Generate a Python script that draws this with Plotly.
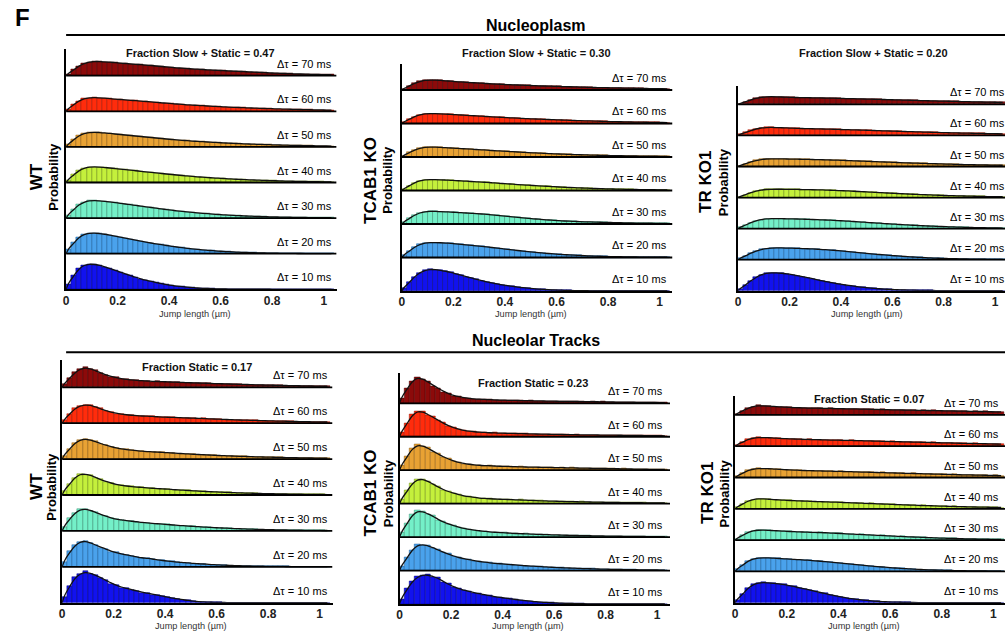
import numpy as np
import plotly.graph_objects as go

W, H = 1005, 633

# ---------------- data ----------------
BIN_CENTERS = [0.01, 0.03, 0.05, 0.07, 0.09, 0.11, 0.13, 0.15, 0.17, 0.19,
               0.21, 0.23, 0.25, 0.27, 0.29, 0.31, 0.33, 0.35, 0.37, 0.39,
               0.41, 0.43, 0.45, 0.47, 0.49, 0.51, 0.53, 0.55, 0.57, 0.59,
               0.61, 0.63, 0.65, 0.67, 0.69, 0.71, 0.73, 0.75, 0.77, 0.79,
               0.81, 0.83, 0.85, 0.87, 0.89, 0.91, 0.93, 0.95, 0.97, 0.99,
               1.01, 1.03]
DT_LABELS = ["Δτ = 10 ms", "Δτ = 20 ms", "Δτ = 30 ms", "Δτ = 40 ms",
             "Δτ = 50 ms", "Δτ = 60 ms", "Δτ = 70 ms"]
TICK_VALS = [0, 0.2, 0.4, 0.6, 0.8, 1]
TICK_TEXT = ["0", "0.2", "0.4", "0.6", "0.8", "1"]
ROW_COLORS = ["#1212EE", "#4AA2EC", "#74F0C8", "#C4F03C", "#E8A234", "#FF2C0C", "#8C0A0A"]
ROW_EDGES = ["#05057A", "#1D5C96", "#3A8C70", "#6C8A14", "#8A5A12", "#9A1404", "#460000"]
GROUP_LABELS = ["WT", "TCAB1 KO", "TR KO1", "WT", "TCAB1 KO", "TR KO1"]
FRACTION_TEXT = ["Fraction Slow + Static = 0.47", "Fraction Slow + Static = 0.30",
                 "Fraction Slow + Static = 0.20", "Fraction Static = 0.17",
                 "Fraction Static = 0.23", "Fraction Static = 0.07"]
SECTION_TITLES = ["Nucleoplasm", "Nucleolar Tracks"]

# probability per bin (arbitrary units) -- Nucleoplasm, WT
np_wt_10 = [5, 14, 21, 24.5, 25.3, 25, 24, 22.5, 20.8, 19,
            17.2, 15.4, 13.7, 12, 10.5, 9.1, 7.8, 6.6, 5.6, 4.7,
            3.9, 3.2, 2.6, 2.1, 1.7, 1.3, 1.0, 0.8, 0.6, 0.45,
            0.35, 0.25, 0.2, 0.15, 0.1, 0.08, 0.06, 0.05, 0.04, 0.03,
            0.02, 0.02, 0.02, 0.02, 0.02, 0.02, 0.02, 0.02, 0.02, 0.02,
            0.02, 0.02]
np_wt_20 = [4, 11, 16.5, 19.5, 20.6, 20.7, 20.2, 19.5, 18.6, 17.6,
            16.6, 15.6, 14.6, 13.6, 12.6, 11.6, 10.7, 9.8, 9.0, 8.2,
            7.4, 6.7, 6.0, 5.4, 4.8, 4.3, 3.8, 3.4, 3.0, 2.6,
            2.3, 2.0, 1.75, 1.5, 1.3, 1.1, 0.95, 0.8, 0.7, 0.6,
            0.5, 0.42, 0.35, 0.3, 0.25, 0.2, 0.17, 0.14, 0.12, 0.1,
            0.08, 0.07]
np_wt_30 = [3, 9, 13.5, 16.2, 17.4, 17.6, 17.3, 16.8, 16.2, 15.5,
            14.8, 14.1, 13.4, 12.7, 12.0, 11.3, 10.6, 9.9, 9.2, 8.5,
            7.9, 7.3, 6.7, 6.2, 5.7, 5.2, 4.8, 4.4, 4.0, 3.6,
            3.3, 3.0, 2.7, 2.45, 2.2, 2.0, 1.8, 1.6, 1.45, 1.3,
            1.15, 1.05, 0.95, 0.85, 0.75, 0.68, 0.6, 0.54, 0.48, 0.43,
            0.38, 0.34]
np_wt_40 = [2.5, 8, 12, 14.5, 15.5, 15.7, 15.4, 15.0, 14.5, 14.0,
            13.4, 12.9, 12.3, 11.8, 11.2, 10.7, 10.1, 9.6, 9.0, 8.5,
            8.0, 7.5, 7.0, 6.6, 6.1, 5.7, 5.3, 4.9, 4.6, 4.3,
            4.0, 3.7, 3.4, 3.1, 2.9, 2.7, 2.5, 2.3, 2.1, 1.9,
            1.75, 1.6, 1.45, 1.3, 1.2, 1.1, 1.0, 0.9, 0.8, 0.72,
            0.65, 0.58]
np_wt_50 = [2.3, 7.5, 11.3, 13.6, 14.5, 14.7, 14.4, 14.0, 13.5, 12.9,
            12.4, 11.9, 11.4, 10.9, 10.4, 9.9, 9.4, 8.9, 8.4, 7.9,
            7.4, 7.0, 6.6, 6.2, 5.8, 5.5, 5.2, 4.9, 4.6, 4.3,
            4.0, 3.8, 3.5, 3.3, 3.1, 2.9, 2.7, 2.5, 2.35, 2.2,
            2.05, 1.9, 1.75, 1.6, 1.5, 1.4, 1.3, 1.2, 1.1, 1.0,
            0.92, 0.85]
np_wt_60 = [2.1, 7, 10.5, 12.7, 13.5, 13.7, 13.5, 13.1, 12.7, 12.2,
            11.8, 11.4, 11.0, 10.6, 10.2, 9.8, 9.4, 9.0, 8.5, 8.1,
            7.7, 7.3, 6.9, 6.5, 6.2, 5.9, 5.6, 5.3, 5.0, 4.7,
            4.5, 4.2, 4.0, 3.8, 3.6, 3.4, 3.2, 3.0, 2.8, 2.65,
            2.5, 2.35, 2.2, 2.05, 1.9, 1.8, 1.65, 1.55, 1.45, 1.35,
            1.25, 1.15]
np_wt_70 = [1.8, 6.2, 9.8, 12.3, 13.7, 14.3, 14.2, 13.9, 13.5, 13.0,
            12.6, 12.2, 11.8, 11.4, 11.0, 10.6, 10.2, 9.7, 9.2, 8.7,
            8.3, 7.9, 7.5, 7.1, 6.8, 6.5, 6.2, 5.9, 5.6, 5.3,
            5.1, 4.8, 4.6, 4.3, 4.1, 3.8, 3.6, 3.3, 3.1, 2.8,
            2.6, 2.4, 2.2, 2.0, 1.85, 1.7, 1.55, 1.4, 1.3, 1.15,
            1.05, 0.95]

# Nucleoplasm, TCAB1 KO
np_tcab_10 = [3, 9, 14.5, 18.5, 20.8, 21.7, 21.5, 20.8, 19.8, 18.6,
              17.2, 15.8, 14.4, 13.0, 11.7, 10.4, 9.2, 8.1, 7.1, 6.2,
              5.4, 4.6, 3.9, 3.3, 2.8, 2.3, 1.9, 1.6, 1.3, 1.05,
              0.85, 0.7, 0.55, 0.45, 0.35, 0.28, 0.22, 0.17, 0.13, 0.1,
              0.08, 0.06, 0.05, 0.04, 0.03, 0.03, 0.02, 0.02, 0.02, 0.02,
              0.02, 0.02]
np_tcab_20 = [2.2, 6.8, 10.5, 13.2, 14.6, 15.0, 15.0, 14.8, 14.5, 14.1,
              13.7, 13.2, 12.7, 12.2, 11.7, 11.2, 10.6, 10.0, 9.4, 8.8,
              8.2, 7.6, 7.0, 6.4, 5.8, 5.3, 4.8, 4.4, 4.0, 3.6,
              3.2, 2.9, 2.6, 2.3, 2.05, 1.8, 1.6, 1.4, 1.25, 1.1,
              0.95, 0.85, 0.75, 0.65, 0.57, 0.5, 0.44, 0.38, 0.33, 0.29,
              0.25, 0.22]
np_tcab_30 = [1.8, 5.8, 9.0, 11.3, 12.4, 12.7, 12.6, 12.4, 12.2, 11.9,
              11.6, 11.3, 11.0, 10.7, 10.4, 10.0, 9.6, 9.1, 8.6, 8.1,
              7.6, 7.1, 6.6, 6.1, 5.6, 5.2, 4.8, 4.4, 4.0, 3.6,
              3.3, 3.0, 2.8, 2.6, 2.4, 2.2, 2.05, 1.9, 1.75, 1.6,
              1.5, 1.38, 1.26, 1.15, 1.05, 0.96, 0.88, 0.8, 0.74, 0.68,
              0.62, 0.57]
np_tcab_40 = [1.6, 5.0, 7.8, 9.8, 10.8, 11.0, 10.9, 10.7, 10.5, 10.2,
              9.9, 9.6, 9.3, 9.0, 8.7, 8.4, 8.1, 7.7, 7.4, 7.0,
              6.7, 6.3, 6.0, 5.6, 5.3, 5.0, 4.7, 4.4, 4.1, 3.8,
              3.5, 3.3, 3.0, 2.8, 2.6, 2.4, 2.2, 2.0, 1.85, 1.7,
              1.55, 1.42, 1.3, 1.2, 1.1, 1.0, 0.92, 0.85, 0.78, 0.72,
              0.66, 0.6]
np_tcab_50 = [1.5, 4.6, 7.1, 8.9, 9.8, 10.0, 9.9, 9.6, 9.3, 9.0,
              8.7, 8.4, 8.1, 7.8, 7.5, 7.2, 6.9, 6.5, 6.2, 5.9,
              5.6, 5.3, 5.0, 4.7, 4.4, 4.2, 3.9, 3.7, 3.4, 3.2,
              3.0, 2.8, 2.6, 2.4, 2.25, 2.1, 1.95, 1.8, 1.68, 1.56,
              1.45, 1.35, 1.25, 1.16, 1.08, 1.0, 0.93, 0.86, 0.8, 0.74,
              0.69, 0.64]
np_tcab_60 = [1.4, 4.4, 7.0, 8.8, 9.8, 10.0, 9.9, 9.7, 9.4, 9.1,
              8.8, 8.5, 8.2, 7.9, 7.6, 7.3, 7.0, 6.7, 6.4, 6.1,
              5.8, 5.5, 5.3, 5.0, 4.8, 4.6, 4.4, 4.2, 4.0, 3.8,
              3.6, 3.4, 3.2, 3.0, 2.85, 2.7, 2.55, 2.4, 2.25, 2.1,
              1.97, 1.85, 1.73, 1.62, 1.52, 1.42, 1.33, 1.24, 1.16, 1.08,
              1.0, 0.94]
np_tcab_70 = [1.3, 4.2, 6.8, 8.7, 9.7, 10.0, 9.9, 9.6, 9.2, 8.8,
              8.4, 8.0, 7.7, 7.4, 7.1, 6.8, 6.5, 6.2, 5.9, 5.6,
              5.4, 5.2, 5.0, 4.8, 4.6, 4.4, 4.2, 4.0, 3.85, 3.7,
              3.55, 3.4, 3.25, 3.1, 2.95, 2.8, 2.65, 2.5, 2.4, 2.3,
              2.2, 2.1, 2.0, 1.9, 1.8, 1.7, 1.6, 1.5, 1.42, 1.34,
              1.26, 1.2]

# Nucleoplasm, TR KO1
np_tr_10 = [2, 6, 10, 13.5, 16, 17.6, 18.0, 17.9, 17.5, 16.9,
            16.1, 15.2, 14.2, 13.1, 12.0, 10.9, 9.8, 8.8, 7.8, 6.9,
            6.0, 5.2, 4.5, 3.9, 3.3, 2.8, 2.3, 1.9, 1.6, 1.3,
            1.05, 0.85, 0.68, 0.54, 0.43, 0.34, 0.27, 0.21, 0.16, 0.12,
            0.1, 0.08, 0.06, 0.05, 0.04, 0.03, 0.03, 0.02, 0.02, 0.02,
            0.02, 0.02]
np_tr_20 = [1.3, 4.0, 6.6, 8.7, 10.2, 11.1, 11.6, 11.7, 11.7, 11.6,
            11.5, 11.3, 11.1, 10.9, 10.7, 10.4, 10.1, 9.8, 9.4, 9.0,
            8.6, 8.1, 7.6, 7.1, 6.6, 6.1, 5.6, 5.1, 4.7, 4.3,
            3.9, 3.5, 3.1, 2.8, 2.5, 2.2, 1.95, 1.7, 1.5, 1.32,
            1.15, 1.0, 0.88, 0.77, 0.67, 0.58, 0.5, 0.43, 0.37, 0.32,
            0.28, 0.24]
np_tr_30 = [1.2, 3.6, 6.0, 7.9, 9.1, 9.7, 10.0, 10.0, 9.9, 9.8,
            9.7, 9.6, 9.4, 9.3, 9.1, 8.9, 8.7, 8.5, 8.3, 8.0,
            7.7, 7.4, 7.1, 6.7, 6.4, 6.0, 5.7, 5.4, 5.0, 4.7,
            4.4, 4.1, 3.8, 3.5, 3.2, 3.0, 2.7, 2.5, 2.3, 2.1,
            1.9, 1.7, 1.55, 1.4, 1.25, 1.1, 1.0, 0.9, 0.8, 0.7,
            0.62, 0.55]
np_tr_40 = [1.0, 3.0, 5.0, 6.6, 7.6, 8.1, 8.3, 8.3, 8.3, 8.2,
            8.2, 8.1, 8.0, 7.9, 7.8, 7.7, 7.6, 7.4, 7.2, 7.0,
            6.8, 6.6, 6.3, 6.0, 5.8, 5.5, 5.2, 5.0, 4.7, 4.4,
            4.2, 3.9, 3.7, 3.4, 3.2, 3.0, 2.8, 2.6, 2.4, 2.2,
            2.05, 1.9, 1.75, 1.6, 1.47, 1.35, 1.23, 1.12, 1.02, 0.93,
            0.85, 0.77]
np_tr_50 = [0.9, 2.8, 4.6, 6.1, 7.1, 7.6, 7.7, 7.7, 7.6, 7.5,
            7.4, 7.3, 7.2, 7.1, 7.0, 6.9, 6.7, 6.6, 6.4, 6.3,
            6.1, 5.9, 5.7, 5.5, 5.3, 5.1, 4.9, 4.7, 4.5, 4.3,
            4.1, 3.9, 3.7, 3.5, 3.35, 3.2, 3.05, 2.9, 2.75, 2.6,
            2.45, 2.3, 2.15, 2.0, 1.9, 1.8, 1.7, 1.6, 1.5, 1.4,
            1.3, 1.2]
np_tr_60 = [1.0, 3.0, 5.0, 6.6, 7.6, 8.0, 8.0, 7.9, 7.7, 7.5,
            7.3, 7.1, 6.9, 6.8, 6.7, 6.6, 6.4, 6.3, 6.2, 6.0,
            5.9, 5.7, 5.6, 5.4, 5.3, 5.1, 4.9, 4.8, 4.6, 4.4,
            4.3, 4.1, 3.95, 3.8, 3.65, 3.5, 3.35, 3.2, 3.05, 2.9,
            2.75, 2.6, 2.5, 2.4, 2.3, 2.2, 2.1, 2.0, 1.9, 1.8,
            1.7, 1.6]
np_tr_70 = [0.9, 2.8, 4.7, 6.2, 7.2, 7.7, 7.7, 7.6, 7.4, 7.2,
            7.0, 6.9, 6.8, 6.7, 6.6, 6.5, 6.4, 6.3, 6.2, 6.1,
            5.9, 5.8, 5.7, 5.5, 5.4, 5.3, 5.1, 5.0, 4.9, 4.7,
            4.6, 4.45, 4.3, 4.15, 4.0, 3.85, 3.7, 3.55, 3.45, 3.3,
            3.2, 3.1, 2.95, 2.85, 2.75, 2.6, 2.5, 2.4, 2.3, 2.2,
            2.1, 2.0]

# Nucleolar tracks, WT
no_wt_10 = [6, 17, 25.5, 28.5, 31.5, 29, 28, 24.5, 23, 19,
            18, 15, 14.8, 12.6, 12.2, 10.2, 10, 8.2, 7.8, 6.4,
            5.8, 4.5, 3.9, 2.9, 2.3, 1.5, 1.1, 0.8, 0.5, 0.35,
            0.25, 0.18, 0.12, 0.1, 0.08, 0.06, 0.05, 0.05, 0.04, 0.04,
            0.03, 0.03, 0.03, 0.03, 0.02, 0.02, 0.02, 0.02, 0.02, 0.02,
            0.02, 0.02]
no_wt_20 = [5, 15.5, 21.5, 25, 26.3, 23.5, 22.3, 19.2, 18.3, 15.1,
            14.6, 12.4, 12.2, 10.5, 10.2, 8.7, 8.6, 7.9, 6.8, 6.5,
            5.5, 5.5, 4.4, 4.3, 4.0, 3.2, 3.1, 2.9, 2.3, 2.2,
            1.7, 1.8, 1.3, 1.3, 1.0, 0.9, 0.85, 0.7, 0.55, 0.55,
            0.45, 0.4, 0.35, 0.32, 0.25, 0.22, 0.2, 0.18, 0.15, 0.13,
            0.12, 0.1]
no_wt_30 = [4, 12.5, 18, 21.5, 22, 20.3, 19, 16, 15.2, 12.7,
            11.6, 11.4, 10.0, 9.6, 9.4, 8.3, 8.3, 7.4, 7.3, 6.6,
            6.5, 5.9, 5.4, 5.4, 4.7, 4.5, 4.3, 3.8, 3.6, 3.4,
            2.9, 2.9, 2.5, 2.3, 2.2, 1.9, 1.8, 1.6, 1.4, 1.35,
            1.2, 1.1, 1.0, 0.9, 0.8, 0.72, 0.65, 0.58, 0.52, 0.47,
            0.42, 0.38]
no_wt_40 = [4, 11.5, 17.5, 21.5, 20.5, 20.3, 17.1, 15.8, 13.2, 12.2,
            10.4, 9.8, 8.8, 8.6, 7.8, 7.7, 7.0, 6.8, 6.5, 5.9,
            6.1, 5.3, 5.2, 4.7, 4.6, 4.2, 3.8, 3.7, 3.3, 3.2,
            2.9, 2.6, 2.6, 2.2, 2.2, 1.9, 1.8, 1.7, 1.5, 1.4,
            1.3, 1.2, 1.1, 0.98, 0.9, 0.82, 0.75, 0.68, 0.62, 0.56,
            0.51, 0.46]
no_wt_50 = [3.5, 10.5, 16.5, 19, 20.5, 18.8, 17.9, 15.1, 14.3, 12.0,
            11.5, 10.0, 9.8, 8.7, 8.6, 7.8, 7.5, 7.4, 6.8, 6.9,
            6.2, 6.3, 5.6, 5.6, 5.0, 5.0, 4.4, 4.6, 3.9, 4.0,
            3.5, 3.5, 3.1, 3.1, 2.7, 2.8, 2.4, 2.4, 2.1, 2.1,
            1.9, 1.8, 1.65, 1.6, 1.45, 1.35, 1.25, 1.16, 1.08, 1.0,
            0.93, 0.86]
no_wt_60 = [3, 9.5, 15, 17.3, 18.3, 18.5, 15.8, 14.8, 12.1, 11.3,
            9.7, 9.3, 8.2, 8.2, 7.3, 7.4, 6.8, 7.0, 6.3, 6.3,
            5.8, 6.0, 5.5, 5.6, 5.0, 5.2, 4.7, 4.8, 4.3, 4.3,
            4.0, 3.7, 3.7, 3.3, 3.3, 3.0, 2.9, 2.8, 2.6, 2.4,
            2.4, 2.1, 2.1, 1.9, 1.85, 1.7, 1.6, 1.5, 1.4, 1.32,
            1.24, 1.16]
no_wt_70 = [3, 9.5, 15, 18, 20.5, 18, 17, 14, 12.8, 10.4,
            10.0, 8.3, 8.0, 7.2, 7.1, 6.4, 6.5, 5.8, 6.0, 5.5,
            5.6, 5.0, 5.3, 4.7, 4.8, 4.3, 4.5, 4.0, 4.1, 3.6,
            3.8, 3.3, 3.5, 3.0, 3.1, 2.8, 2.8, 2.4, 2.5, 2.1,
            2.2, 1.9, 2.0, 1.7, 1.8, 1.5, 1.6, 1.4, 1.35, 1.2,
            1.15, 1.05]

# Nucleolar tracks, TCAB1 KO
no_tcab_10 = [5, 15.5, 22.5, 27.5, 28.5, 30, 26.5, 27, 21.5, 20.5,
              16.5, 15.8, 13.4, 12.9, 11.0, 10.6, 9.0, 8.5, 7.2, 6.8,
              5.7, 5.4, 4.3, 4.0, 3.2, 2.9, 2.2, 1.9, 1.5, 1.3,
              1.0, 0.85, 0.6, 0.5, 0.35, 0.28, 0.2, 0.15, 0.1, 0.08,
              0.06, 0.05, 0.05, 0.04, 0.04, 0.03, 0.03, 0.03, 0.02, 0.02,
              0.02, 0.02]
no_tcab_20 = [4, 13.5, 20.5, 26.5, 25.5, 25.5, 22.5, 21, 17.8, 16.8,
              14.0, 13.4, 11.4, 11.2, 9.5, 9.3, 8.1, 7.9, 7.0, 7.0,
              6.2, 6.2, 5.4, 5.4, 4.6, 4.7, 4.0, 4.1, 3.4, 3.5,
              2.8, 3.0, 2.5, 2.6, 2.1, 2.1, 1.8, 1.8, 1.5, 1.5,
              1.25, 1.25, 1.05, 1.05, 0.88, 0.85, 0.75, 0.68, 0.62, 0.56,
              0.5, 0.45]
no_tcab_30 = [4.5, 14, 22.5, 26.5, 25.5, 23.0, 21.5, 17.0, 15.5, 12.6,
              11.8, 9.5, 8.9, 7.4, 7.2, 6.1, 6.0, 5.1, 5.0, 4.4,
              4.4, 3.8, 3.7, 3.3, 3.4, 2.9, 2.9, 2.5, 2.6, 2.2,
              2.3, 1.9, 2.0, 1.6, 1.7, 1.45, 1.5, 1.25, 1.3, 1.05,
              1.05, 0.9, 0.9, 0.78, 0.78, 0.66, 0.66, 0.56, 0.56, 0.48,
              0.48, 0.42]
no_tcab_40 = [4, 13, 20.5, 24.8, 24.3, 22.8, 19.0, 17.3, 13.4, 12.6,
              10.0, 9.3, 7.4, 7.2, 5.9, 5.8, 5.0, 5.1, 4.5, 4.6,
              4.0, 4.3, 3.6, 3.9, 3.3, 3.4, 2.9, 3.0, 2.55, 2.7,
              2.25, 2.4, 2.0, 2.1, 1.85, 1.9, 1.65, 1.7, 1.45, 1.5,
              1.25, 1.3, 1.1, 1.15, 0.98, 1.0, 0.88, 0.9, 0.78, 0.8,
              0.7, 0.65]
no_tcab_50 = [4.5, 14, 21.8, 25.6, 24.2, 22.6, 18.4, 16.8, 12.7, 11.6,
              9.0, 8.0, 6.4, 6.2, 5.0, 5.3, 4.3, 4.8, 3.9, 4.2,
              3.6, 3.9, 3.3, 3.6, 3.0, 3.3, 2.8, 3.1, 2.6, 2.9,
              2.4, 2.7, 2.2, 2.5, 2.0, 2.3, 1.9, 2.0, 1.7, 1.85,
              1.5, 1.7, 1.3, 1.5, 1.1, 1.3, 0.95, 1.05, 0.85, 0.9,
              0.8, 0.75]
no_tcab_60 = [4.5, 13.5, 22.5, 25.5, 25.5, 21.8, 20.0, 16.0, 14.0, 10.6,
              9.4, 7.2, 6.6, 5.3, 5.2, 4.4, 4.5, 3.8, 4.0, 3.4,
              3.7, 3.2, 3.4, 3.0, 3.2, 2.7, 2.9, 2.5, 2.7, 2.3,
              2.5, 2.1, 2.3, 1.95, 2.1, 1.8, 1.95, 1.7, 1.85, 1.6,
              1.7, 1.5, 1.6, 1.4, 1.5, 1.3, 1.35, 1.15, 1.2, 1.05,
              1.05, 0.95]
no_tcab_70 = [5, 15, 22.5, 26.5, 24.0, 22.0, 17.5, 15.5, 11.5, 10.0,
              7.5, 6.8, 5.3, 5.0, 4.2, 4.3, 3.6, 3.8, 3.2, 3.4,
              2.9, 3.1, 2.7, 2.9, 2.5, 2.7, 2.3, 2.5, 2.1, 2.3,
              1.9, 2.1, 1.8, 2.0, 1.65, 1.85, 1.5, 1.7, 1.4, 1.6,
              1.25, 1.45, 1.1, 1.3, 1.0, 1.2, 0.85, 1.05, 0.75, 0.9,
              0.7, 0.75]

# Nucleolar tracks, TR KO1
no_tr_10 = [3, 9, 14.5, 18.5, 19.5, 20.5, 19.5, 19.8, 18.5, 18.6,
            16.7, 16.3, 14.6, 14.2, 12.3, 11.7, 9.9, 9.3, 7.6, 7.1,
            5.6, 5.1, 3.9, 3.6, 2.6, 2.4, 1.7, 1.5, 1.05, 0.9,
            0.65, 0.5, 0.38, 0.28, 0.2, 0.15, 0.11, 0.08, 0.06, 0.05,
            0.05, 0.04, 0.04, 0.03, 0.03, 0.03, 0.02, 0.02, 0.02, 0.02,
            0.02, 0.02]
no_tr_20 = [2, 6.5, 10.5, 12.4, 13.8, 13.5, 13.7, 13.0, 13.1, 12.4,
            12.5, 11.8, 11.9, 11.2, 11.2, 10.4, 10.4, 9.5, 9.4, 8.5,
            8.4, 7.5, 7.4, 6.5, 6.4, 5.5, 5.4, 4.6, 4.6, 3.8,
            3.8, 3.0, 3.0, 2.5, 2.4, 1.9, 1.9, 1.5, 1.5, 1.2,
            1.15, 0.92, 0.9, 0.72, 0.68, 0.55, 0.52, 0.42, 0.4, 0.32,
            0.3, 0.25]
no_tr_30 = [1.6, 5, 8, 9.2, 10.2, 9.8, 10, 9.3, 9.4, 8.7,
            8.8, 8.2, 8.4, 7.8, 8.0, 7.4, 7.8, 7.2, 7.2, 6.7,
            6.8, 6.1, 6.3, 5.6, 5.8, 5.1, 5.3, 4.6, 4.8, 4.1,
            4.3, 3.6, 3.8, 3.1, 3.3, 2.7, 2.9, 2.3, 2.5, 1.9,
            2.0, 1.65, 1.7, 1.35, 1.4, 1.1, 1.2, 0.95, 1.0, 0.75,
            0.8, 0.65]
no_tr_40 = [1.6, 5, 8, 9.3, 10.3, 9.7, 9.8, 9.0, 9.1, 8.4,
            8.5, 7.9, 8.1, 7.5, 7.7, 7.1, 7.3, 6.7, 7.0, 6.4,
            6.6, 6.0, 6.2, 5.6, 5.8, 5.2, 5.4, 4.8, 5.0, 4.4,
            4.6, 4.0, 4.2, 3.6, 3.8, 3.2, 3.4, 3.0, 3.1, 2.6,
            2.8, 2.3, 2.5, 2.0, 2.2, 1.8, 1.9, 1.6, 1.7, 1.4,
            1.5, 1.3]
no_tr_50 = [1.4, 4.4, 7.2, 8.3, 9.2, 8.8, 9.0, 8.2, 8.4, 7.7,
            7.8, 7.2, 7.4, 6.8, 7.0, 6.5, 6.8, 6.2, 6.5, 6.0,
            6.2, 5.8, 6.0, 5.4, 5.7, 5.1, 5.4, 4.8, 5.1, 4.5,
            4.8, 4.2, 4.5, 3.9, 4.2, 3.7, 3.9, 3.4, 3.6, 3.2,
            3.3, 2.9, 3.1, 2.6, 2.8, 2.4, 2.6, 2.2, 2.4, 2.0,
            2.1, 1.9]
no_tr_60 = [1.3, 4.2, 6.9, 8.0, 8.9, 8.5, 8.7, 7.9, 8.1, 7.4,
            7.6, 7.0, 7.2, 6.6, 6.9, 6.4, 6.7, 6.0, 6.3, 5.9,
            6.1, 5.7, 5.9, 5.5, 5.7, 5.1, 5.4, 4.9, 5.1, 4.6,
            4.9, 4.3, 4.6, 4.1, 4.3, 3.9, 4.0, 3.6, 3.8, 3.3,
            3.5, 3.1, 3.3, 2.8, 3.0, 2.6, 2.8, 2.4, 2.6, 2.2,
            2.3, 2.1]
no_tr_70 = [1.3, 4.2, 7.0, 8.2, 9.5, 8.6, 9.2, 8.1, 8.4, 7.6,
            7.7, 7.1, 7.4, 6.7, 7.0, 6.5, 6.9, 6.3, 6.7, 6.1,
            6.4, 5.9, 6.2, 5.8, 6.0, 5.5, 5.8, 5.3, 5.6, 5.0,
            5.3, 4.8, 5.1, 4.6, 4.9, 4.4, 4.7, 4.2, 4.5, 4.0,
            4.3, 3.8, 4.1, 3.6, 3.9, 3.4, 3.7, 3.2, 3.5, 3.0,
            3.2, 2.9]

PANEL_SERIES = [
    [np_wt_10, np_wt_20, np_wt_30, np_wt_40, np_wt_50, np_wt_60, np_wt_70],
    [np_tcab_10, np_tcab_20, np_tcab_30, np_tcab_40, np_tcab_50, np_tcab_60, np_tcab_70],
    [np_tr_10, np_tr_20, np_tr_30, np_tr_40, np_tr_50, np_tr_60, np_tr_70],
    [no_wt_10, no_wt_20, no_wt_30, no_wt_40, no_wt_50, no_wt_60, no_wt_70],
    [no_tcab_10, no_tcab_20, no_tcab_30, no_tcab_40, no_tcab_50, no_tcab_60, no_tcab_70],
    [no_tr_10, no_tr_20, no_tr_30, no_tr_40, no_tr_50, no_tr_60, no_tr_70],
]

# ---------------- layout geometry (pixels) ----------------
GEOM = [
    dict(x0=63.3, x1=334.6, xmax=1.05, ybot=289.3, ytop=49.3, step=35.6,
         fx=198, fy=52.7, gx=33.3, px=50, ly=177, dtr=332, tty=314),
    dict(x0=400.0, x1=671.5, xmax=1.05, ybot=291.0, ytop=64.0, step=33.5,
         fx=535, fy=52.7, gx=368, px=385, ly=180, dtr=668, tty=314),
    dict(x0=737.3, x1=1005, xmax=1.039, ybot=290.7, ytop=86.0, step=31.05,
         fx=873.3, fy=52.7, gx=705, px=723.3, ly=182, dtr=1007, tty=314),
    dict(x0=59.3, x1=330.5, xmax=1.05, ybot=602.7, ytop=360.0, step=35.9,
         fx=195, fy=366.7, gx=33.3, px=49.3, ly=486.7, dtr=327.5, tty=625.8),
    dict(x0=397.7, x1=669.0, xmax=1.05, ybot=604.0, ytop=373.3, step=33.45,
         fx=531.7, fy=383.3, gx=368.3, px=386, ly=493.3, dtr=664, tty=625.8),
    dict(x0=734.3, x1=1005, xmax=1.045, ybot=602.7, ytop=396.0, step=31.3,
         fx=868.3, fy=399.3, gx=706.7, px=723.3, ly=493.3, dtr=1001, tty=625.8),
]

FONT = "Liberation Sans, Arial, sans-serif"


def pxx(v):
    return v / W


def pxy(v):
    return 1 - v / H


fig = go.Figure()
annotations = []
shapes = []
layout_axes = {}

for p, (g, series) in enumerate(zip(GEOM, PANEL_SERIES)):
    n = p + 1
    xa = "x" if n == 1 else f"x{n}"
    ya = "y" if n == 1 else f"y{n}"
    xkey = "xaxis" if n == 1 else f"xaxis{n}"
    ykey = "yaxis" if n == 1 else f"yaxis{n}"
    yrange = g["ybot"] - g["ytop"]
    for r, vals in enumerate(series):
        assert len(vals) == len(BIN_CENTERS), (p, r, len(vals))
        base = r * g["step"]
        fig.add_trace(go.Bar(
            x=BIN_CENTERS, y=vals, base=base, width=0.02,
            marker=dict(color=ROW_COLORS[r], line=dict(color=ROW_EDGES[r], width=0.5)),
            xaxis=xa, yaxis=ya, showlegend=False, hoverinfo="skip"))
        arr = np.array(vals, dtype=float)
        padded = np.concatenate([[0.0], arr, [arr[-1]]])
        fit = 0.25 * padded[:-2] + 0.5 * padded[1:-1] + 0.25 * padded[2:]
        fx = [0.0] + BIN_CENTERS
        fy = [base] + list(base + fit)
        fig.add_trace(go.Scatter(
            x=fx, y=fy, mode="lines", line=dict(color="#111111", width=1.3, shape="spline"),
            xaxis=xa, yaxis=ya, showlegend=False, hoverinfo="skip"))
        if r > 0:
            shapes.append(dict(type="line", xref=xa, yref=ya, x0=0, x1=g["xmax"],
                               y0=base, y1=base, line=dict(color="black", width=1.8)))
        annotations.append(dict(
            xref="paper", yref=ya, x=pxx(g["dtr"]), y=base + 12, xanchor="right",
            yanchor="middle", text=DT_LABELS[r], showarrow=False,
            font=dict(family=FONT, size=11, color="black")))
    layout_axes[xkey] = dict(
        domain=[pxx(g["x0"]), pxx(g["x1"])], range=[0, g["xmax"]], anchor=ya,
        showline=True, linecolor="black", linewidth=2, ticks="", showgrid=False,
        zeroline=False, tickvals=TICK_VALS, ticktext=TICK_TEXT, ticklabelstandoff=-1,
        tickfont=dict(family=FONT, size=12, color="#222222", weight="bold"))
    layout_axes[ykey] = dict(
        domain=[pxy(g["ybot"]), pxy(g["ytop"])], range=[0, yrange], anchor=xa,
        showline=True, linecolor="black", linewidth=2, ticks="", showgrid=False,
        zeroline=False, showticklabels=False)
    # x title
    annotations.append(dict(
        xref=xa, yref="paper", x=0.5, y=pxy(g["tty"]), xanchor="center", yanchor="middle",
        text="Jump length (µm)", showarrow=False,
        font=dict(family=FONT, size=9.2, color="#333333")))
    # fraction text
    annotations.append(dict(
        xref="paper", yref="paper", x=pxx(g["fx"]), y=pxy(g["fy"]), xanchor="center",
        yanchor="middle", text=FRACTION_TEXT[p], showarrow=False,
        font=dict(family=FONT, size=11, color="#111111", weight="bold")))
    # group label and Probability label
    annotations.append(dict(
        xref="paper", yref="paper", x=pxx(g["gx"]), y=pxy(g["ly"]), xanchor="center",
        yanchor="middle", text=GROUP_LABELS[p], textangle=-90, showarrow=False,
        font=dict(family=FONT, size=17, color="black", weight="bold")))
    annotations.append(dict(
        xref="paper", yref="paper", x=pxx(g["px"]), y=pxy(g["ly"]), xanchor="center",
        yanchor="middle", text="Probability", textangle=-90, showarrow=False,
        font=dict(family=FONT, size=13, color="black", weight="bold")))

# section headings and rules
for title, ty, ly in zip(SECTION_TITLES, [25, 340], [35, 352.3]):
    annotations.append(dict(
        xref="paper", yref="paper", x=pxx(535), y=pxy(ty), xanchor="center", yanchor="middle",
        text=title, showarrow=False, font=dict(family=FONT, size=16, color="black", weight="bold")))
    shapes.append(dict(type="line", xref="paper", yref="paper", x0=pxx(63.3), x1=1.0,
                       y0=pxy(ly), y1=pxy(ly), line=dict(color="black", width=2)))

annotations.append(dict(
    xref="paper", yref="paper", x=pxx(20), y=pxy(18), xanchor="center", yanchor="middle",
    text="F", showarrow=False, font=dict(family=FONT, size=24, color="black", weight="bold")))

fig.update_layout(
    width=W, height=H, margin=dict(l=0, r=0, t=0, b=0),
    paper_bgcolor="white", plot_bgcolor="white", barmode="overlay", bargap=0,
    annotations=annotations, shapes=shapes, **layout_axes)

fig.write_html("out.html", config={"displayModeBar": False},
               post_script="document.body.style.margin='0px';document.body.style.overflow='hidden';")
